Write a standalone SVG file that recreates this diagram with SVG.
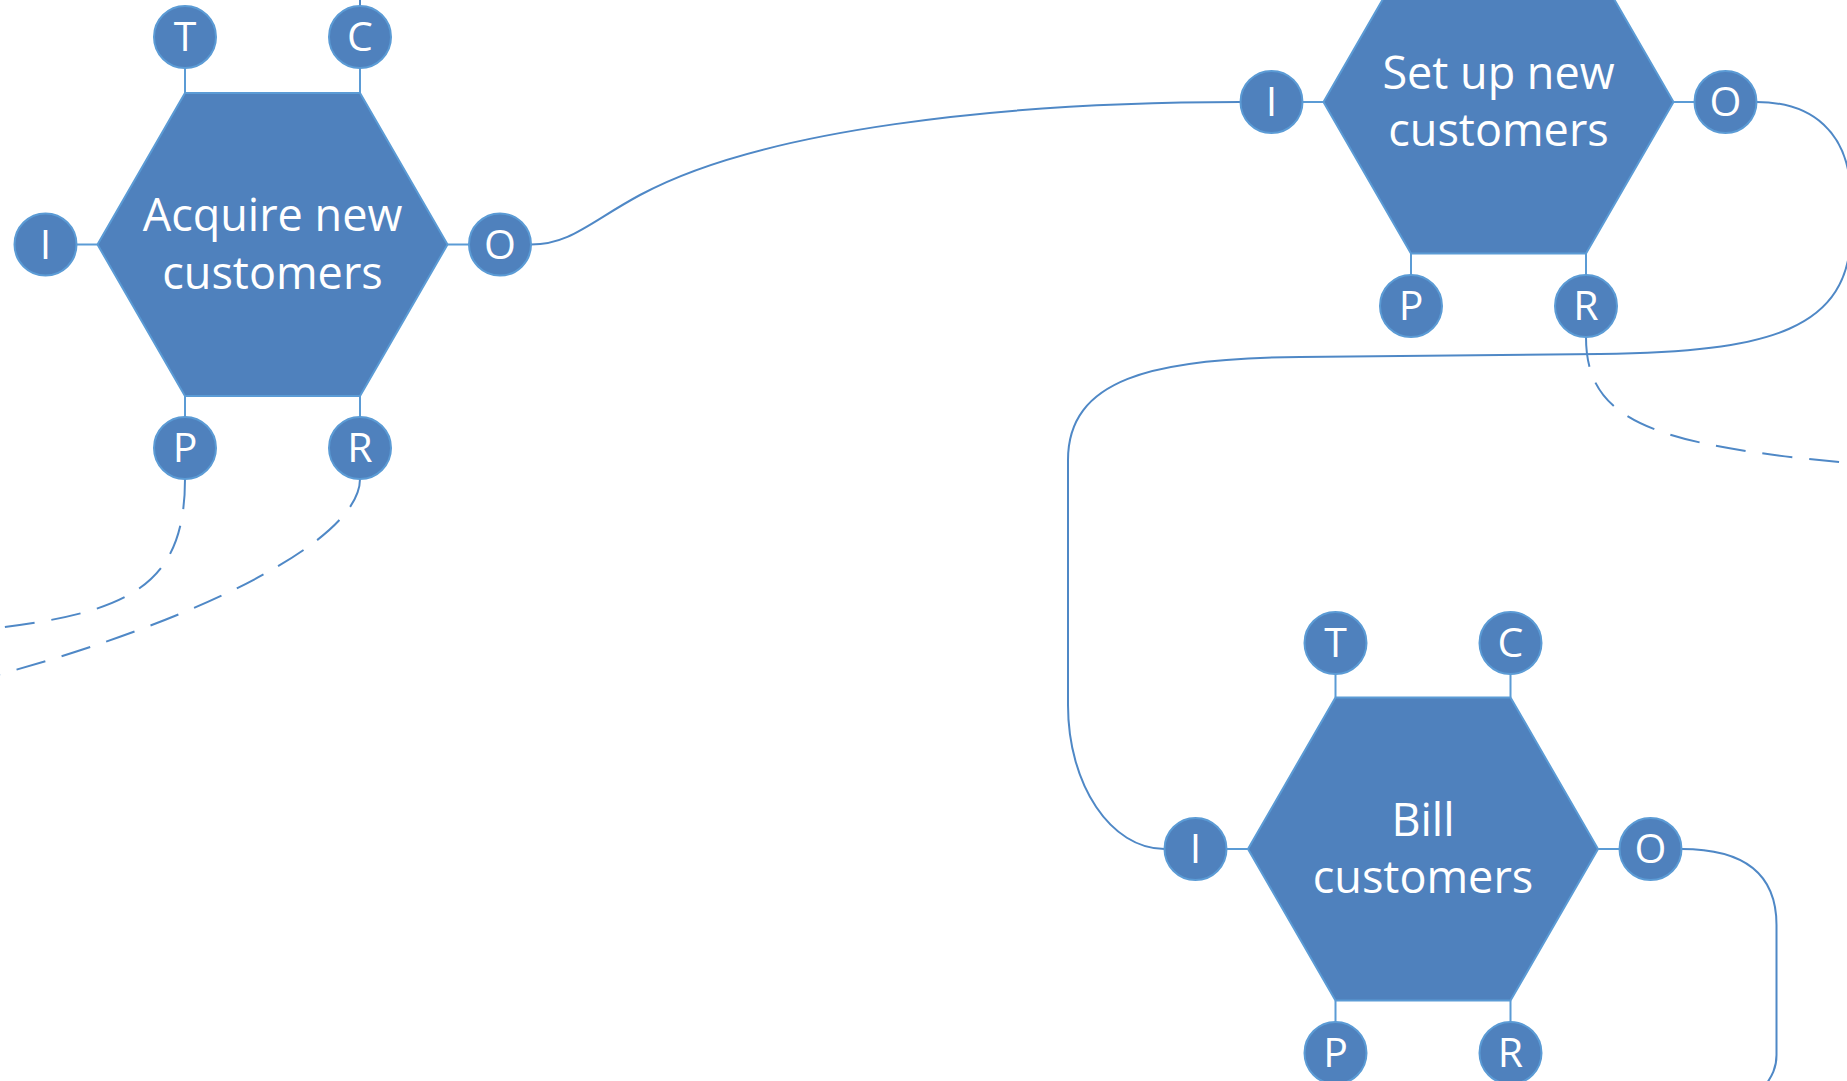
<svg xmlns="http://www.w3.org/2000/svg" width="1847" height="1081" viewBox="0 0 1847 1081">
<style>
.hex{fill:#4F81BD;stroke:#5B9BD5;stroke-width:2}
.port{fill:#4F81BD;stroke:#5B9BD5;stroke-width:2}
.stub{stroke:#5B9BD5;stroke-width:2;fill:none}
.lbl{font-family:"Open Sans","Noto Sans","Liberation Sans",sans-serif;font-size:45px;fill:#FFFFFF;text-anchor:middle}
.pl{font-family:"Open Sans","Noto Sans","Liberation Sans",sans-serif;font-size:41px;fill:#FFFFFF;text-anchor:middle}
.con{fill:none;stroke:#4F88C6;stroke-width:2}
.dash{stroke-dasharray:30 17}
</style>
<rect width="1847" height="1081" fill="#FFFFFF"/>
<g id="connectors">
<path id="c-acq-set" class="con" d="M531,244.5 C570,244.5 590,222 640,195 C760,130 1000,102 1240,102"/>
<path id="c-set-bill" class="con" d="M1756.5,102 C1810,102 1851,130 1851,200 L1851,230 C1851,330 1770,352 1600,354 L1300,357 C1150,358 1068,380 1068,460 L1068,705 C1068,785 1111,849 1164.5,849"/>
<path id="c-bill-out" class="con" d="M1681.5,849 C1740,849 1776.5,870 1776.5,925 L1776.5,1055 C1776.5,1068 1772,1076 1765,1086"/>
<path id="c-set-r" class="con dash" d="M1586,337 C1586,420 1650,445 1850,463"/>
<path id="c-acq-p" class="con dash" d="M185,479 C185,585 130,612 -3,628"/>
<path id="c-acq-r" class="con dash" d="M360,479 C360,540 200,620 -3,675"/>
<path id="c-acq-c" class="con" d="M360,6 L360,-10"/>
</g>
<g id="acquire">
<polygon class="hex" points="97.5,244.5 185,93 360,93 447.5,244.5 360,396 185,396"/>
<path class="stub" d="M185,68 V93 M360,68 V93 M76.5,244.5 H97.5 M447.5,244.5 H469 M185,396 V417 M360,396 V417"/>
<circle class="port" cx="185" cy="37" r="31"/><text class="pl" x="185" y="51">T</text>
<circle class="port" cx="360" cy="37" r="31"/><text class="pl" x="360" y="51">C</text>
<circle class="port" cx="45.5" cy="244.5" r="31"/><text class="pl" x="45.5" y="258.5">I</text>
<circle class="port" cx="500" cy="244.5" r="31"/><text class="pl" x="500" y="258.5">O</text>
<circle class="port" cx="185" cy="448" r="31"/><text class="pl" x="185" y="462">P</text>
<circle class="port" cx="360" cy="448" r="31"/><text class="pl" x="360" y="462">R</text>
<text class="lbl" x="272.5" y="231">Acquire new</text>
<text class="lbl" x="272.5" y="288.5">customers</text>
</g>
<g id="setup">
<polygon class="hex" points="1323.5,102 1411,-49.5 1586,-49.5 1673.5,102 1586,253.5 1411,253.5"/>
<path class="stub" d="M1302.5,102 H1323.5 M1673.5,102 H1694.5 M1411,253.5 V275 M1586,253.5 V275"/>
<circle class="port" cx="1271.5" cy="102" r="31"/><text class="pl" x="1271.5" y="116">I</text>
<circle class="port" cx="1725.5" cy="102" r="31"/><text class="pl" x="1725.5" y="116">O</text>
<circle class="port" cx="1411" cy="306" r="31"/><text class="pl" x="1411" y="320">P</text>
<circle class="port" cx="1586" cy="306" r="31"/><text class="pl" x="1586" y="320">R</text>
<text class="lbl" x="1498.5" y="88.5">Set up new</text>
<text class="lbl" x="1498.5" y="146">customers</text>
</g>
<g id="bill">
<polygon class="hex" points="1248,849 1335.5,697.5 1510.5,697.5 1598,849 1510.5,1000.5 1335.5,1000.5"/>
<path class="stub" d="M1335.5,674 V697.5 M1510.5,674 V697.5 M1226.5,849 H1248 M1598,849 H1619.5 M1335.5,1000.5 V1022 M1510.5,1000.5 V1022"/>
<circle class="port" cx="1335.5" cy="643" r="31"/><text class="pl" x="1335.5" y="657">T</text>
<circle class="port" cx="1510.5" cy="643" r="31"/><text class="pl" x="1510.5" y="657">C</text>
<circle class="port" cx="1195.5" cy="849" r="31"/><text class="pl" x="1195.5" y="863">I</text>
<circle class="port" cx="1650.5" cy="849" r="31"/><text class="pl" x="1650.5" y="863">O</text>
<circle class="port" cx="1335.5" cy="1053" r="31"/><text class="pl" x="1335.5" y="1067">P</text>
<circle class="port" cx="1510.5" cy="1053" r="31"/><text class="pl" x="1510.5" y="1067">R</text>
<text class="lbl" x="1423" y="835.5">Bill</text>
<text class="lbl" x="1423" y="893">customers</text>
</g>
</svg>
